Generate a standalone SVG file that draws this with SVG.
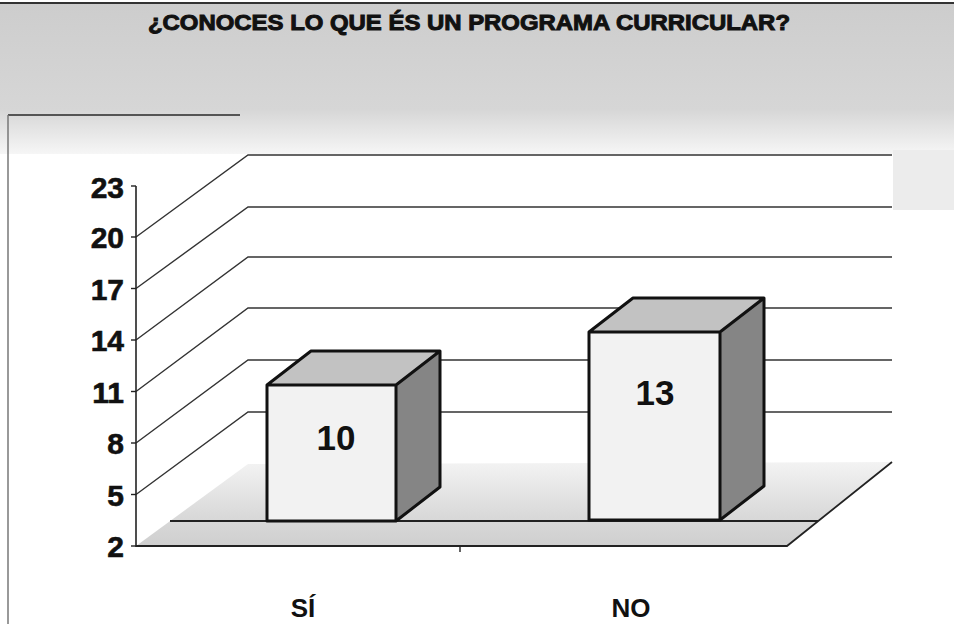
<svg xmlns="http://www.w3.org/2000/svg" width="954" height="624" viewBox="0 0 954 624">
<style>
.t{font-family:"Liberation Sans",Arial,sans-serif;font-weight:bold;fill:#111}
.grid{stroke:#333;stroke-width:1.4;fill:none}
.edge{stroke:#111;stroke-width:3;stroke-linejoin:round}
</style>
<defs>
<linearGradient id="topband" x1="0" y1="0" x2="0" y2="1">
<stop offset="0" stop-color="#cdcdcd"/>
<stop offset="0.7" stop-color="#d6d6d6"/>
<stop offset="1" stop-color="#f6f6f6"/>
</linearGradient>
<linearGradient id="floorg" x1="0" y1="1" x2="0" y2="0">
<stop offset="0" stop-color="#cfcfcf"/>
<stop offset="0.35" stop-color="#d9d9d9"/>
<stop offset="1" stop-color="#f3f3f3"/>
</linearGradient>
</defs>
<rect width="954" height="624" fill="#fff"/>
<g id="background">
<rect x="0" y="4" width="954" height="150" fill="url(#topband)"/>
<rect x="893" y="150" width="61" height="60" fill="#ececec"/>
<line x1="0" y1="3" x2="954" y2="3" stroke="#333" stroke-width="2"/>
<line x1="8" y1="115" x2="240" y2="115" stroke="#555" stroke-width="2"/>
<line x1="8" y1="115" x2="8" y2="624" stroke="#777" stroke-width="1.5"/>
</g>
<g id="title">
<text class="t" x="469" y="30" font-size="22" text-anchor="middle" textLength="642" lengthAdjust="spacingAndGlyphs" stroke="#111" stroke-width="1">¿CONOCES LO QUE ÉS UN PROGRAMA CURRICULAR?</text>
</g>
<g id="plot-walls">
<polygon points="248,155 892,155 892,462 248,464 136,546 136,237" fill="#fff"/>
<polygon points="136,546 787,546 892,462 248,464" fill="url(#floorg)"/>
</g>
<g id="gridlines" class="grid">
<polyline points="136,237 248,155 892,155"/>
<polyline points="136,288.5 248,207 892,207"/>
<polyline points="136,340 248,257 892,257"/>
<polyline points="136,391.5 248,308 892,308"/>
<polyline points="136,443 248,360 892,360"/>
<polyline points="136,494.5 248,412 892,412"/>
<line x1="170" y1="521" x2="818" y2="521" stroke="#222" stroke-width="2"/>
<polyline points="136,546 787,546 892,462" stroke="#222" stroke-width="1.8"/>
</g>
<g id="axis">
<line x1="136" y1="186" x2="136" y2="547" stroke="#222" stroke-width="1.6"/>
<g stroke="#222" stroke-width="1.4">
<line x1="131" y1="186" x2="136" y2="186"/>
<line x1="131" y1="237" x2="136" y2="237"/>
<line x1="131" y1="288.5" x2="136" y2="288.5"/>
<line x1="131" y1="340" x2="136" y2="340"/>
<line x1="131" y1="391.5" x2="136" y2="391.5"/>
<line x1="131" y1="443" x2="136" y2="443"/>
<line x1="131" y1="494.5" x2="136" y2="494.5"/>
<line x1="131" y1="546" x2="136" y2="546"/>
<line x1="460" y1="546" x2="460" y2="552"/>
</g>
<g class="t" font-size="30" text-anchor="end" stroke="#111" stroke-width="0.6">
<text x="124" y="198">23</text>
<text x="124" y="248">20</text>
<text x="124" y="300">17</text>
<text x="124" y="351">14</text>
<text x="124" y="403">11</text>
<text x="124" y="454">8</text>
<text x="124" y="506">5</text>
<text x="124" y="557">2</text>
</g>
</g>
<g id="bar-si">
<polygon points="267,385 311,351 440,351 396,385" fill="#c2c2c2"/>
<polygon points="396,385 440,351 440,487 396,521" fill="#858585"/>
<rect x="267" y="385" width="129" height="136" fill="#f2f2f2"/>
<path class="edge" fill="none" d="M267,521 V385 L311,351 H440 V487 L396,521 Z M267,385 H396 V521 M396,385 L440,351"/>
<text class="t" x="336" y="450" font-size="35" text-anchor="middle">10</text>
</g>
<g id="bar-no">
<polygon points="589,332 633,298 764,298 720,332" fill="#c2c2c2"/>
<polygon points="720,332 764,298 764,486 720,520" fill="#858585"/>
<rect x="589" y="332" width="131" height="188" fill="#f2f2f2"/>
<path class="edge" fill="none" d="M589,520 V332 L633,298 H764 V486 L720,520 Z M589,332 H720 V520 M720,332 L764,298"/>
<text class="t" x="655" y="405" font-size="35" text-anchor="middle">13</text>
</g>
<g id="categories" class="t" font-size="26" text-anchor="middle">
<text x="303" y="617">SÍ</text>
<text x="631" y="617">NO</text>
</g>
</svg>
